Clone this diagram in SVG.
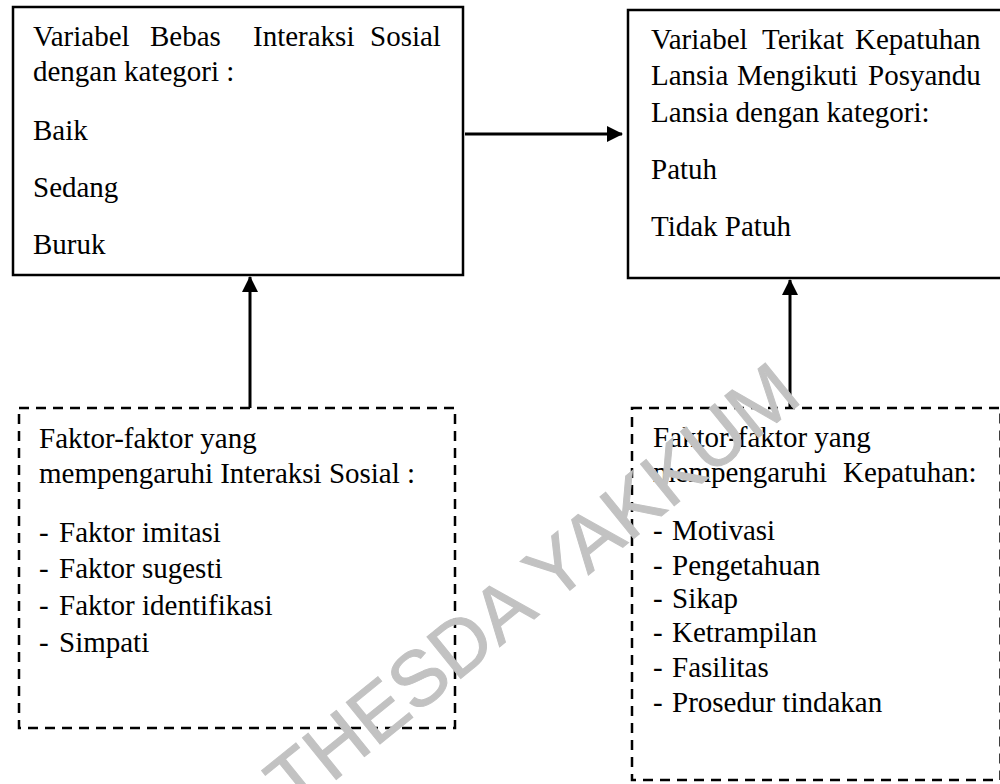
<svg xmlns="http://www.w3.org/2000/svg" width="1000" height="784" viewBox="0 0 1000 784">
<style>
text{font-family:"Liberation Serif","Times New Roman",serif;font-size:29px;fill:#000}
.solid{fill:#fff;stroke:#000;stroke-width:2.5}
.dash{fill:none;stroke:#000;stroke-width:2.5;stroke-dasharray:10 7}
.conn{stroke:#000;stroke-width:3;fill:none}
.wm{font-family:"Liberation Sans",Arial,sans-serif;font-size:78px;fill:#c2c2c2;stroke:#c2c2c2;stroke-width:1}
</style>
<defs>
<marker id="ah" markerUnits="userSpaceOnUse" markerWidth="16" markerHeight="16" viewBox="0 0 16 16" refX="15" refY="8" orient="auto">
<path d="M0,0 L16,8 L0,16 z" fill="#000"/>
</marker>
</defs>
<rect width="1000" height="784" fill="#fff"/>
<g id="connectors">
<line class="conn" x1="465" y1="134" x2="622" y2="134" marker-end="url(#ah)"/>
<line class="conn" x1="250" y1="408" x2="250" y2="277" marker-end="url(#ah)"/>
<line class="conn" x1="790" y1="408" x2="790" y2="280" marker-end="url(#ah)"/>
</g>
<g id="node-bebas">
<rect class="solid" x="13" y="7" width="450" height="268"/>
<text><tspan x="33" y="46">Variabel</tspan><tspan x="150" y="46">Bebas</tspan><tspan x="253" y="46">Interaksi</tspan><tspan x="370" y="46">Sosial</tspan></text>
<text x="33" y="81">dengan kategori :</text>
<text x="33" y="140">Baik</text>
<text x="33" y="197">Sedang</text>
<text x="33" y="254">Buruk</text>
</g>
<g id="node-terikat">
<rect class="solid" x="628" y="10" width="380" height="268"/>
<text><tspan x="651" y="49">Variabel</tspan><tspan x="762" y="49">Terikat</tspan><tspan x="855" y="49">Kepatuhan</tspan></text>
<text><tspan x="651" y="85">Lansia</tspan><tspan x="737" y="85">Mengikuti</tspan><tspan x="868" y="85">Posyandu</tspan></text>
<text x="651" y="122">Lansia dengan kategori:</text>
<text x="651" y="179">Patuh</text>
<text x="651" y="236">Tidak Patuh</text>
</g>
<g id="node-faktor-interaksi">
<rect class="dash" x="19" y="408" width="436" height="320"/>
<text x="39" y="448">Faktor-faktor yang</text>
<text x="39" y="483">mempengaruhi Interaksi Sosial :</text>
<text><tspan x="39" y="542">-</tspan><tspan x="59" y="542">Faktor imitasi</tspan></text>
<text><tspan x="39" y="578">-</tspan><tspan x="59" y="578">Faktor sugesti</tspan></text>
<text><tspan x="39" y="615">-</tspan><tspan x="59" y="615">Faktor identifikasi</tspan></text>
<text><tspan x="39" y="652">-</tspan><tspan x="59" y="652">Simpati</tspan></text>
</g>
<g id="node-faktor-kepatuhan">
<rect class="dash" x="632" y="408" width="368.5" height="372"/>
<text x="653" y="447">Faktor-faktor yang</text>
<text><tspan x="653" y="482">mempengaruhi</tspan><tspan x="843" y="482">Kepatuhan:</tspan></text>
<text><tspan x="653" y="540">-</tspan><tspan x="672" y="540">Motivasi</tspan></text>
<text><tspan x="653" y="575">-</tspan><tspan x="672" y="575">Pengetahuan</tspan></text>
<text><tspan x="653" y="608">-</tspan><tspan x="672" y="608">Sikap</tspan></text>
<text><tspan x="653" y="642">-</tspan><tspan x="672" y="642">Ketrampilan</tspan></text>
<text><tspan x="653" y="677">-</tspan><tspan x="672" y="677">Fasilitas</tspan></text>
<text><tspan x="653" y="712">-</tspan><tspan x="672" y="712">Prosedur tindakan</tspan></text>
</g>
<text class="wm" text-anchor="middle" transform="translate(549,607) rotate(-39)">THESDA YAKKUM</text>
</svg>
